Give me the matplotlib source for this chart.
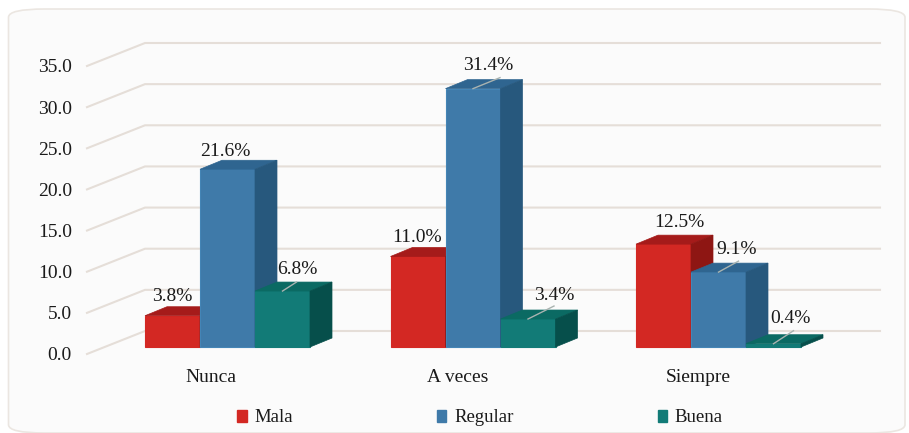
import matplotlib.pyplot as plt
from matplotlib.patches import Polygon, FancyBboxPatch, Patch

categories = ["Nunca", "A veces", "Siempre"]
series_names = ["Mala", "Regular", "Buena"]
mala = [3.8, 11.0, 12.5]
regular = [21.6, 31.4, 9.1]
buena = [6.8, 3.4, 0.4]
y_ticks = [0, 5, 10, 15, 20, 25, 30, 35]

W, H = 909, 433
# pixels per unit, one category step is 245.5 px and 35 units is 288 px
sx = 245.5
sy = 288 / 35.0
x0_px = 227.5
y0_px = 347

plt.rcParams['font.family'] = ['Liberation Serif', 'DejaVu Serif']

fig = plt.figure(figsize=(W / 100, H / 100), dpi=100, facecolor='white')
ax = fig.add_axes([0, 0, 1, 1])
ax.set_xlim(-x0_px / sx, (W - x0_px) / sx)
ax.set_ylim(-(H - y0_px) / sy, y0_px / sy)
ax.axis('off')

bar_w = 55 / sx
dx = 22 / sx
dy = 9 / sy

# rounded frame
frame = FancyBboxPatch((8.5 / W, 0.0), (905 - 8.5) / W, (433 - 9) / H, boxstyle="round,pad=0,rounding_size=0.04",
                       transform=ax.transAxes, mutation_aspect=H / W,
                       fc='#fbfbfb', ec='#ebe6e1', lw=1.2, clip_on=False, zorder=0)
ax.add_patch(frame)

# slanted floor/wall gridlines
left_front = (87 - x0_px) / sx
left_back = (145 - x0_px) / sx
right_back = (880 - x0_px) / sx
for t in y_ticks:
    ax.plot([left_front, left_back, right_back],
            [t - 7 / sy, t + 16 / sy, t + 16 / sy],
            color='#e5ded8', lw=1.5, zorder=1, solid_joinstyle='miter')
    ax.text((72 - x0_px) / sx, t - 9 / sy, "%.1f" % t, ha='right', va='center',
            fontsize=14, color='#1a1a1a')

colors = [('#d32823', '#a51b1a', '#8e1613', '#d32823'),
          ('#3f7aa9', '#2f6590', '#27587d', '#4485b6'),
          ('#127b77', '#0b6a63', '#064f4b', '#127b77')]

all_vals = [mala, regular, buena]
for s in range(3):
    face, top, side, edge = colors[s]
    for c in range(3):
        v = all_vals[s][c]
        x1 = c + (s - 1.5) * bar_w
        x2 = x1 + bar_w
        ax.add_patch(Polygon([(x1, 0), (x2, 0), (x2, v), (x1, v)], fc=face, ec=edge, lw=0.8, zorder=3))
        ax.add_patch(Polygon([(x1, v), (x2, v), (x2 + dx, v + dy), (x1 + dx, v + dy)], fc=top, ec=top, lw=0.5, zorder=3))
        ax.add_patch(Polygon([(x2, 0), (x2 + dx, dy), (x2 + dx, v + dy), (x2, v)], fc=side, ec=side, lw=0.5, zorder=3))

# label offsets from the middle of each bar top, px right / px up
offsets = [[(0, 19), (-1, 19), (16, 22)],
           [(-2, 18), (15, 23), (18, 23)],
           [(15, 22), (26, 24), (17, 25)]]
leader = [[False, False, False],
          [False, True, True],
          [True, True, True]]
leader_ends = [[None, None, None],
               [None, (27, 11), (20, 11)],
               [(14, 9), (26, 13), (20, 13)]]
for s in range(3):
    for c in range(3):
        v = all_vals[s][c]
        xc = c + (s - 1) * bar_w
        ox, oy = offsets[s][c]
        ax.text(xc + ox / sx, v + oy / sy, "%.1f%%" % v, ha='center', va='center',
                fontsize=14, color='#1a1a1a', zorder=6)
        if leader[s][c]:
            ex, ey = leader_ends[s][c]
            ax.plot([xc, xc + ex / sx], [v, v + ey / sy], color='#a9b3b0', lw=1, zorder=5)

cat_shift = [-17, -15, -20]
for c, name in enumerate(categories):
    ax.text(c + cat_shift[c] / sx, -30 / sy, name, ha='center', va='center',
            fontsize=14, color='#1a1a1a')

handles = [Patch(color=colors[i][0], label=series_names[i]) for i in range(3)]
ax.legend(handles=handles, ncol=3, loc='center', bbox_to_anchor=(480 / W, 1 - 418 / H), frameon=False,
          fontsize=13.5, handlelength=0.5, handleheight=0.55, handletextpad=0.4, columnspacing=7.7,
          labelcolor='#1a1a1a')

plt.savefig('out.png', dpi=100)
plt.close()
